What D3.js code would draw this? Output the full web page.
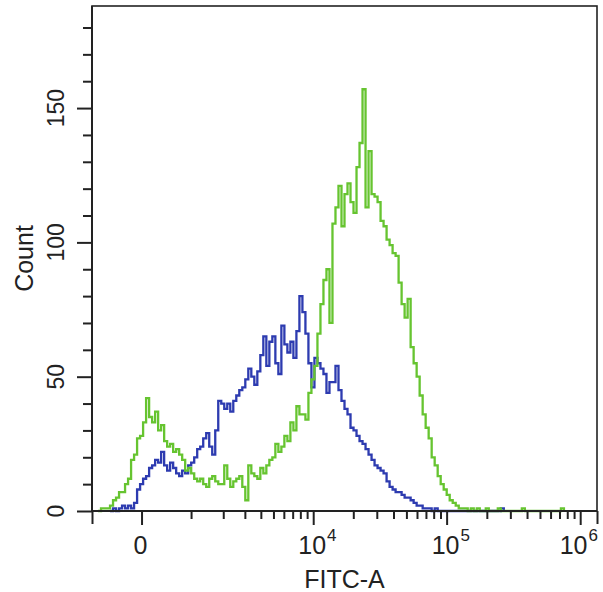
<!DOCTYPE html>
<html>
<head>
<meta charset="utf-8">
<script src="https://cdn.jsdelivr.net/npm/d3@7"></script>
<style>
  html, body { margin: 0; padding: 0; background: #fff; }
  svg { display: block; }
</style>
</head>
<body>
<svg id="chart" width="603" height="592"></svg>
<script>
// Histogram counts per display channel (168 equal channels across the FITC-A axis)
const greenCounts = [
  0,0,0,1,1,1,2,4,5,7,
  7,10,12,19,21,27,28,33,42,35,
  33,37,30,32,26,24,25,22,23,21,
  19,15,16,14,12,11,12,10,9,12,
  13,11,10,10,17,12,9,11,12,13,
  9,4,17,14,13,12,16,14,17,19,
  20,25,22,24,28,26,33,30,39,36,
  36,34,44,49,54,66,77,86,90,70,
  107,113,121,106,118,122,115,111,128,137,
  157,113,134,118,117,115,108,106,101,99,
  96,95,85,77,72,79,61,55,50,43,
  36,31,27,20,17,13,10,8,6,4,
  3,2,1,1,1,0,1,0,1,0,
  0,1,0,0,0,1,0,0,0,0,
  0,0,0,1,0,0,0,0,0,0,
  0,0,0,0,0,0,1,0,0,0,
  0,0,0,0,0,0,0,0
];
const blueCounts = [
  0,0,0,0,0,0,0,1,0,1,
  2,1,2,1,3,8,10,12,13,16,
  17,19,18,22,17,15,18,16,14,13,
  15,14,17,18,20,23,24,27,29,24,
  21,30,41,40,38,40,37,41,43,45,
  46,49,53,50,47,52,58,65,54,63,
  65,55,51,69,62,59,63,57,67,80,
  74,66,55,46,57,55,53,51,44,48,
  48,54,45,41,38,36,31,30,28,26,
  25,23,21,19,17,16,15,14,11,9,
  8,7,7,6,5,5,4,3,2,2,
  1,1,1,0,1,0,0,0,0,0,
  0,0,0,0,0,0,0,0,0,0,
  0,0,0,0,0,0,1,0,0,0,
  0,0,0,0,0,0,0,0,0,0,
  0,0,0,0,0,0,0,0,0,0,
  0,0,0,0,0,0,0,0
];

// Axis definitions
const xRange = [-1000, 1336000];          // FITC-A display range
const xMajorTicks = [0, 1e4, 1e5, 1e6];
const xTickBase = ["0", "10", "10", "10"];
const xTickExp  = ["", "4", "5", "6"];
const yMax = 188;
const yMajorTicks = [0, 50, 100, 150];
const yTickLabels = ["0", "50", "100", "150"];
const xTitle = "FITC-A";
const yTitle = "Count";

const plot = { left: 92, right: 597, top: 6, bottom: 511 };
const ink = "#222";
const font = "'Liberation Sans', Arial, Helvetica, sans-serif";

const svg = d3.select("#chart");

// Biexponential-style (arcsinh) display transform for the x axis
const cofactor = 1040;
const T = v => Math.asinh(v / cofactor);
const xT = d3.scaleLinear().domain(xRange.map(T)).range([plot.left, plot.right]);
const x = v => xT(T(v));
const y = d3.scaleLinear().domain([0, yMax]).range([plot.bottom, plot.top]);
const channel = d3.scaleLinear().domain([0, greenCounts.length]).range([plot.left, plot.right]);

// Minor tick values: each decade step below 10^6, plus Count every 10
const xMinor = [];
[1e3, 1e4, 1e5].forEach(d => { for (let k = 1; k <= 9; k++) if (!(k === 1 && d > 1e3)) xMinor.push(k * d); });
const xMinorOnly = xMinor.filter(v => !xMajorTicks.includes(v));
const yMinor = d3.range(0, 181, 10).filter(v => !yMajorTicks.includes(v));

// Histogram traces
function tracePoints(counts) {
  let first = counts.findIndex(c => c > 0);
  let last = counts.length - 1 - [...counts].reverse().findIndex(c => c > 0);
  first = Math.max(0, first - 1);
  const pts = [];
  for (let i = first; i <= last; i++) pts.push([i, counts[i]]);
  pts.push([last + 1, counts[last]]);
  if (last + 1 < counts.length) pts.push([last + 1, 0]);
  return pts;
}
const line = d3.line()
  .x(d => channel(d[0]))
  .y(d => y(d[1]))
  .curve(d3.curveStepAfter);

const traces = svg.append("g");
traces.append("path")
  .attr("d", line(tracePoints(blueCounts)))
  .attr("fill", "none").attr("stroke", "#2d3bb0").attr("stroke-width", 2.3);
traces.append("path")
  .attr("d", line(tracePoints(greenCounts)))
  .attr("fill", "none").attr("stroke", "#66c430").attr("stroke-width", 2.3);

// Frame
svg.append("rect")
  .attr("x", plot.left).attr("y", plot.top)
  .attr("width", plot.right - plot.left).attr("height", plot.bottom - plot.top)
  .attr("fill", "none").attr("stroke", ink).attr("stroke-width", 1.6);

// X axis ticks
function styleAxis(g) {
  g.select(".domain").remove();
  g.selectAll(".tick line").attr("stroke", ink).attr("stroke-width", 2);
  g.selectAll(".tick text").remove();
}
svg.append("g").attr("transform", `translate(0,${plot.bottom})`)
  .call(d3.axisBottom(xT).tickValues(xMinorOnly.map(T)).tickSize(8).tickFormat(""))
  .call(styleAxis);
svg.append("g").attr("transform", `translate(0,${plot.bottom})`)
  .call(d3.axisBottom(xT).tickValues(xMajorTicks.map(T)).tickSize(14).tickFormat(""))
  .call(styleAxis);
svg.append("g").attr("transform", `translate(0,${plot.bottom})`)
  .call(d3.axisBottom(xT).tickValues(xRange.map(T)).tickSize(13).tickFormat(""))
  .call(styleAxis);

// Y axis ticks
svg.append("g").attr("transform", `translate(${plot.left},0)`)
  .call(d3.axisLeft(y).tickValues(yMinor).tickSize(9).tickFormat(""))
  .call(styleAxis);
svg.append("g").attr("transform", `translate(${plot.left},0)`)
  .call(d3.axisLeft(y).tickValues(yMajorTicks).tickSize(15).tickFormat(""))
  .call(styleAxis);

// Axis lines drawn a little heavier than the frame
svg.append("line").attr("x1", plot.left).attr("x2", plot.left)
  .attr("y1", plot.top).attr("y2", plot.bottom + 1)
  .attr("stroke", ink).attr("stroke-width", 2);
svg.append("line").attr("x1", plot.left - 1).attr("x2", plot.right)
  .attr("y1", plot.bottom).attr("y2", plot.bottom)
  .attr("stroke", ink).attr("stroke-width", 2);

// X tick labels with superscript exponents
xMajorTicks.forEach((v, i) => {
  const t = svg.append("text")
    .attr("y", 554)
    .attr("font-family", font).attr("font-size", 25).attr("fill", ink);
  const base = t.append("tspan").text(xTickBase[i]);
  let expW = 0;
  if (xTickExp[i]) {
    const ex = t.append("tspan").attr("font-size", 17).attr("dy", -13).attr("dx", 1).text(xTickExp[i]);
    expW = ex.node().getComputedTextLength() + 1;
  }
  const baseW = base.node().getComputedTextLength();
  let x0 = x(v) - baseW / 2 - 1;
  if (x0 + baseW + expW > plot.right + 1) x0 = plot.right + 1 - baseW - expW;
  t.attr("x", x0);
});

// Y tick labels, rotated
yMajorTicks.forEach((v, i) => {
  svg.append("text")
    .attr("transform", `translate(64,${y(v)}) rotate(-90)`)
    .attr("text-anchor", "middle")
    .attr("font-family", font).attr("font-size", 23).attr("fill", ink)
    .text(yTickLabels[i]);
});

// Axis titles
svg.append("text")
  .attr("x", (plot.left + plot.right) / 2).attr("y", 588)
  .attr("text-anchor", "middle")
  .attr("font-family", font).attr("font-size", 25).attr("fill", ink)
  .text(xTitle);
svg.append("text")
  .attr("transform", `translate(33,${(plot.top + plot.bottom) / 2}) rotate(-90)`)
  .attr("text-anchor", "middle")
  .attr("font-family", font).attr("font-size", 25).attr("fill", ink)
  .text(yTitle);
</script>
</body>
</html>
